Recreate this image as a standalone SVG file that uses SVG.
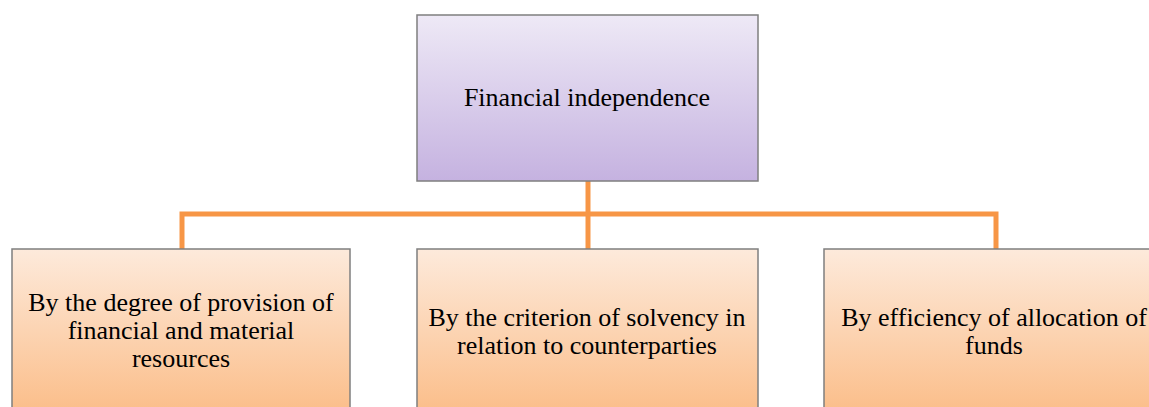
<svg xmlns="http://www.w3.org/2000/svg" width="1149" height="407" viewBox="0 0 1149 407">
  <defs>
    <linearGradient id="gradTop" x1="0" y1="0" x2="0" y2="1">
      <stop offset="0" stop-color="#EEE9F6"/>
      <stop offset="1" stop-color="#C5B2E0"/>
    </linearGradient>
    <linearGradient id="gradSub" x1="0" y1="0" x2="0" y2="1">
      <stop offset="0" stop-color="#FDEADB"/>
      <stop offset="1" stop-color="#FBBD88"/>
    </linearGradient>
    <style>
      .box { stroke: #7F7F7F; stroke-width: 1.5; }
      .top { fill: url(#gradTop); }
      .sub { fill: url(#gradSub); }
      .label { font-family: "Liberation Serif", "Times New Roman", serif; font-size: 26px; fill: #000; text-anchor: middle; }
      .link { fill: none; stroke: #F79646; stroke-width: 5; }
    </style>
  </defs>

  <!-- connectors -->
  <g id="connectors">
    <path class="link" d="M588 181 V249"/>
    <path class="link" d="M182 249 V214 H996 V249"/>
  </g>

  <!-- root node -->
  <g id="node-root">
    <rect class="box top" x="417" y="15" width="341" height="166"/>
    <text class="label" x="587" y="106">Financial independence</text>
  </g>

  <!-- criteria nodes -->
  <g id="node-provision">
    <rect class="box sub" x="12" y="249" width="338" height="166"/>
    <text class="label" x="181" y="311">By the degree of provision of</text>
    <text class="label" x="181" y="339">financial and material</text>
    <text class="label" x="181" y="367">resources</text>
  </g>

  <g id="node-solvency">
    <rect class="box sub" x="417" y="249" width="341" height="166"/>
    <text class="label" x="587" y="326">By the criterion of solvency in</text>
    <text class="label" x="587" y="354">relation to counterparties</text>
  </g>

  <g id="node-efficiency">
    <rect class="box sub" x="824" y="249" width="341" height="166"/>
    <text class="label" x="994" y="326">By efficiency of allocation of</text>
    <text class="label" x="994" y="354">funds</text>
  </g>
</svg>
